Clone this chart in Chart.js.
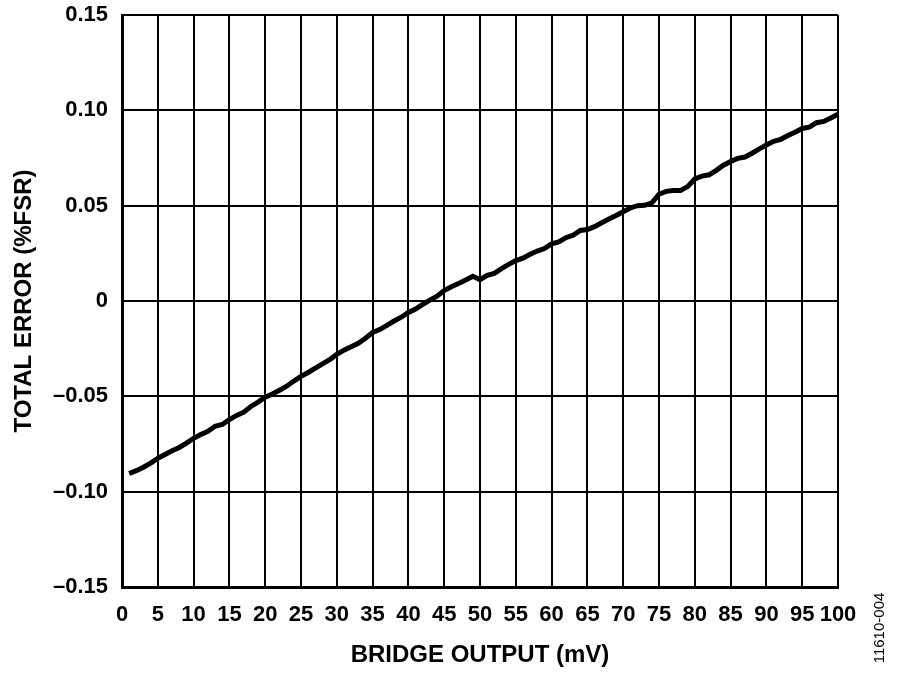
<!DOCTYPE html>
<html>
<head>
<meta charset="utf-8">
<script src="https://cdn.jsdelivr.net/npm/chart.js@4/dist/chart.umd.min.js"></script>
<style>
  html, body { margin: 0; padding: 0; background: #fff; }
  #wrap { width: 900px; height: 678px; }
</style>
</head>
<body>
<div id="wrap"><canvas id="chart" width="900" height="678"></canvas></div>
<script>
// bridge output (mV)
const bridgeOutput = [
  1, 2, 3, 4, 5, 6, 7, 8, 9, 10,
  11, 12, 13, 14, 15, 16, 17, 18, 19, 20,
  21, 22, 23, 24, 25, 26, 27, 28, 29, 30,
  31, 32, 33, 34, 35, 36, 37, 38, 39, 40,
  41, 42, 43, 44, 45, 46, 47, 48, 49, 50,
  51, 52, 53, 54, 55, 56, 57, 58, 59, 60,
  61, 62, 63, 64, 65, 66, 67, 68, 69, 70,
  71, 72, 73, 74, 75, 76, 77, 78, 79, 80,
  81, 82, 83, 84, 85, 86, 87, 88, 89, 90,
  91, 92, 93, 94, 95, 96, 97, 98, 99, 100
];
// total error (%FSR)
const totalError = [
  -0.0905, -0.0890, -0.0872, -0.0850, -0.0825, -0.0805, -0.0785, -0.0768, -0.0745, -0.0720,
  -0.0700, -0.0683, -0.0657, -0.0648, -0.0622, -0.0600, -0.0583, -0.0553, -0.0530, -0.0505,
  -0.0488, -0.0468, -0.0447, -0.0420, -0.0395, -0.0375, -0.0352, -0.0330, -0.0308, -0.0280,
  -0.0258, -0.0240, -0.0222, -0.0195, -0.0165, -0.0150, -0.0128, -0.0105, -0.0085, -0.0060,
  -0.0042, -0.0018, 0.0005, 0.0025, 0.0055, 0.0075, 0.0092, 0.0110, 0.0130, 0.0112,
  0.0135, 0.0145, 0.0170, 0.0192, 0.0212, 0.0225, 0.0245, 0.0262, 0.0275, 0.0300,
  0.0310, 0.0332, 0.0345, 0.0370, 0.0375, 0.0390, 0.0410, 0.0430, 0.0448, 0.0468,
  0.0488, 0.0500, 0.0502, 0.0515, 0.0560, 0.0575, 0.0580, 0.0580, 0.0600, 0.0640,
  0.0655, 0.0662, 0.0685, 0.0712, 0.0732, 0.0748, 0.0755, 0.0775, 0.0798, 0.0818,
  0.0838, 0.0848, 0.0868, 0.0885, 0.0905, 0.0912, 0.0935, 0.0942, 0.0960, 0.0980
];
const xTicks = [0, 5, 10, 15, 20, 25, 30, 35, 40, 45, 50, 55, 60, 65, 70, 75, 80, 85, 90, 95, 100];
const yTicks = [-0.15, -0.10, -0.05, 0, 0.05, 0.10, 0.15];
const yTickLabels = ["\u20130.15", "\u20130.10", "\u20130.05", "0", "0.05", "0.10", "0.15"];

const FONT = "'Liberation Sans', Arial, sans-serif";

// figure number at the right edge
const figNumber = {
  id: "figNumber",
  afterDraw(chart) {
    const ctx = chart.ctx;
    ctx.save();
    ctx.translate(880, 628);
    ctx.rotate(-Math.PI / 2);
    ctx.font = "15px " + FONT;
    ctx.fillStyle = "#000";
    ctx.textAlign = "center";
    ctx.textBaseline = "middle";
    ctx.fillText("11610-004", 0, 0);
    ctx.restore();
  }
};

const ctx = document.getElementById("chart").getContext("2d");
new Chart(ctx, {
  type: "line",
  data: {
    datasets: [{
      data: bridgeOutput.map((x, i) => ({ x: x, y: totalError[i] })),
      borderColor: "#000",
      borderWidth: 5,
      pointRadius: 0,
      tension: 0,
      fill: false
    }]
  },
  options: {
    responsive: false,
    animation: false,
    layout: { padding: { left: 0, right: 62, top: 15, bottom: 0 } },
    plugins: { legend: { display: false }, tooltip: { enabled: false } },
    scales: {
      x: {
        type: "linear",
        min: 0,
        max: 100,
        afterBuildTicks: (s) => { s.ticks = xTicks.map(v => ({ value: v })); },
        afterFit: (s) => {
          s.height = 91;
          s.paddingLeft = 0;
          s.paddingRight = 0;
        },
        grid: { color: "#000", lineWidth: 2, drawTicks: false },
        border: { color: "#000", width: 3 },
        ticks: {
          color: "#000",
          padding: 15,
          maxRotation: 0,
          autoSkip: false,
          font: { family: FONT, size: 22, weight: "bold" }
        },
        title: {
          display: true,
          text: "BRIDGE OUTPUT (mV)",
          color: "#000",
          padding: { top: 8, bottom: 8 },
          font: { family: FONT, size: 24, weight: "bold" }
        }
      },
      y: {
        min: -0.15,
        max: 0.15,
        afterBuildTicks: (s) => { s.ticks = yTicks.map(v => ({ value: v })); },
        afterFit: (s) => {
          s.width = 122;
          s.paddingTop = 0;
          s.paddingBottom = 0;
        },
        grid: { color: "#000", lineWidth: 2, drawTicks: false },
        border: { color: "#000", width: 3 },
        ticks: {
          color: "#000",
          padding: 14,
          autoSkip: false,
          font: { family: FONT, size: 22, weight: "bold" },
          callback: (v) => {
            const i = yTicks.findIndex(t => Math.abs(t - v) < 1e-9);
            return i >= 0 ? yTickLabels[i] : "";
          }
        },
        title: {
          display: true,
          text: "TOTAL ERROR (%FSR)",
          color: "#000",
          padding: { top: 10, bottom: 0 },
          font: { family: FONT, size: 24, weight: "bold" }
        }
      }
    }
  },
  plugins: [figNumber]
});
</script>
</body>
</html>
